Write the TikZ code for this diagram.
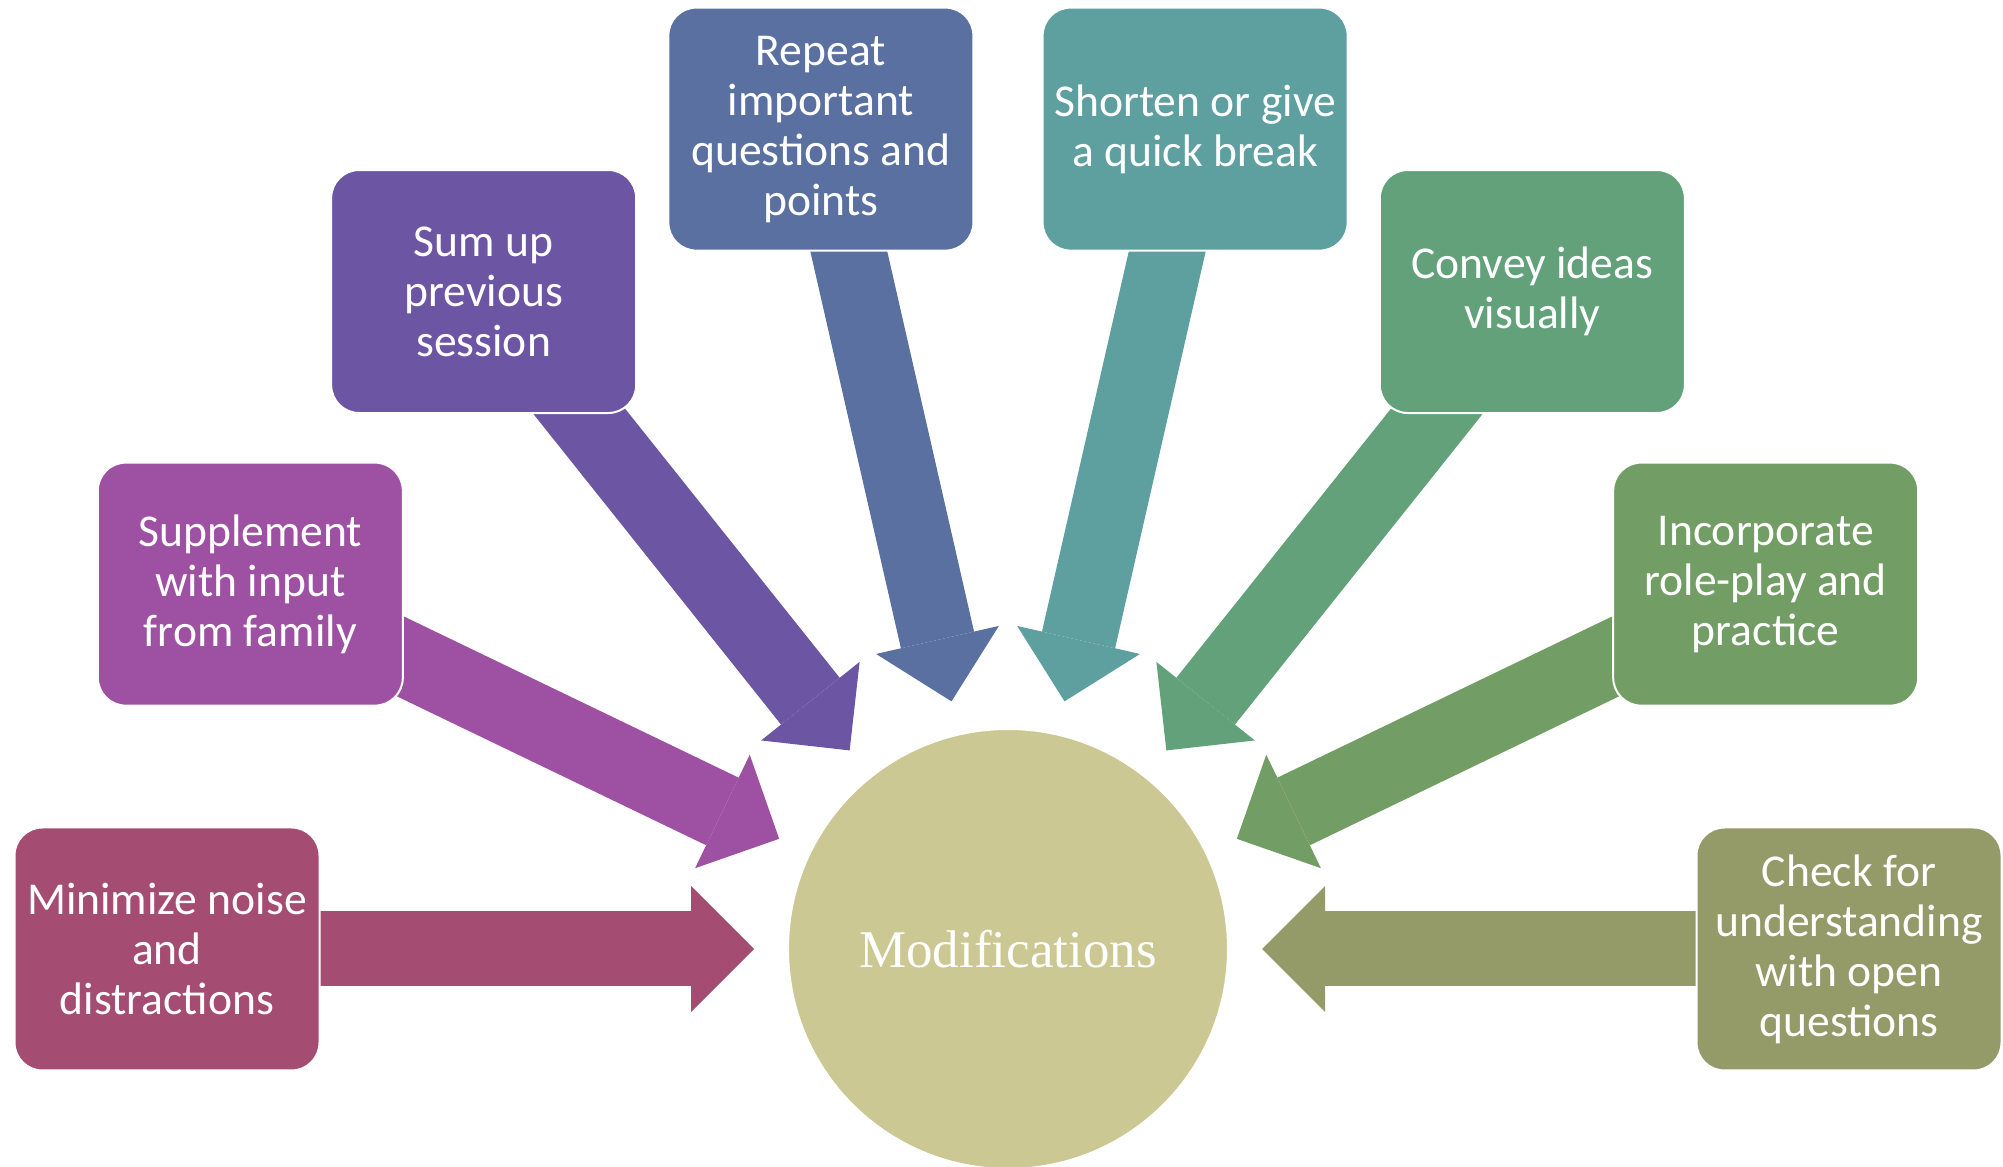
\documentclass[tikz,border=0pt]{standalone}
\usepackage{fontspec}
\setmainfont{Carlito}
\newfontfamily\circfont{Liberation Serif}
\usetikzlibrary{arrows.meta,calc}
\pgfdeclarelayer{background}
\pgfsetlayers{background,main}
\definecolor{cone}{RGB}{165,76,114}
\definecolor{ctwo}{RGB}{158,80,163}
\definecolor{cthree}{RGB}{108,85,162}
\definecolor{cfour}{RGB}{89,112,161}
\definecolor{cfive}{RGB}{94,159,160}
\definecolor{csix}{RGB}{98,161,122}
\definecolor{cseven}{RGB}{114,158,101}
\definecolor{ceight}{RGB}{148,155,105}
\definecolor{ccirc}{RGB}{203,200,147}
\begin{document}
\begin{tikzpicture}[x=0.5pt,y=0.5pt,
  box/.style={rectangle, rounded corners=14pt, minimum width=152.5pt, minimum height=121.5pt,
    inner sep=0pt, outer sep=0pt, draw=white, line width=1pt, text=white, align=center,
    font=\fontsize{22.8}{25}\selectfont},
  arr/.style={line width=37.5pt, -{Triangle[length=31.5pt,width=63pt,line width=0pt]}, shorten >=17pt},
  hub/.style={circle, fill=ccirc, draw=white, line width=1pt, minimum size=220pt, inner sep=0pt,
    outer sep=0pt, text=white, font=\circfont\fontsize{26.5}{30}\selectfont}]
\useasboundingbox (0,0) rectangle (2003,1167);
\node[hub] (c) at (1008,218) {Modifications};
\node[box, fill=cone]   (b1) at ($(c.center)+(180:841)$) {Minimize noise\\and\\distractions};
\node[box, fill=ctwo]   (b2) at ($(c.center)+(154.2857:841)$) {Supplement\\with input\\from family};
\node[box, fill=cthree] (b3) at ($(c.center)+(128.5714:841)$) {Sum up\\previous\\session};
\node[box, fill=cfour]  (b4) at ($(c.center)+(102.8571:841)$) {Repeat\\important\\questions and\\points};
\node[box, fill=cfive]  (b5) at ($(c.center)+(77.1429:841)$) {Shorten or give\\a quick break};
\node[box, fill=csix]   (b6) at ($(c.center)+(51.4286:841)$) {Convey ideas\\visually};
\node[box, fill=cseven] (b7) at ($(c.center)+(25.7143:841)$) {Incorporate\\role-play and\\practice};
\node[box, fill=ceight] (b8) at ($(c.center)+(0:841)$) {Check for\\understanding\\with open\\questions};
\begin{pgfonlayer}{background}
\draw[arr, cone]   (b1.center) -- (c);
\draw[arr, ctwo]   (b2.center) -- (c);
\draw[arr, cthree] (b3.center) -- (c);
\draw[arr, cfour]  (b4.center) -- (c);
\draw[arr, cfive]  (b5.center) -- (c);
\draw[arr, csix]   (b6.center) -- (c);
\draw[arr, cseven] (b7.center) -- (c);
\draw[arr, ceight] (b8.center) -- (c);
\end{pgfonlayer}
\end{tikzpicture}
\end{document}
